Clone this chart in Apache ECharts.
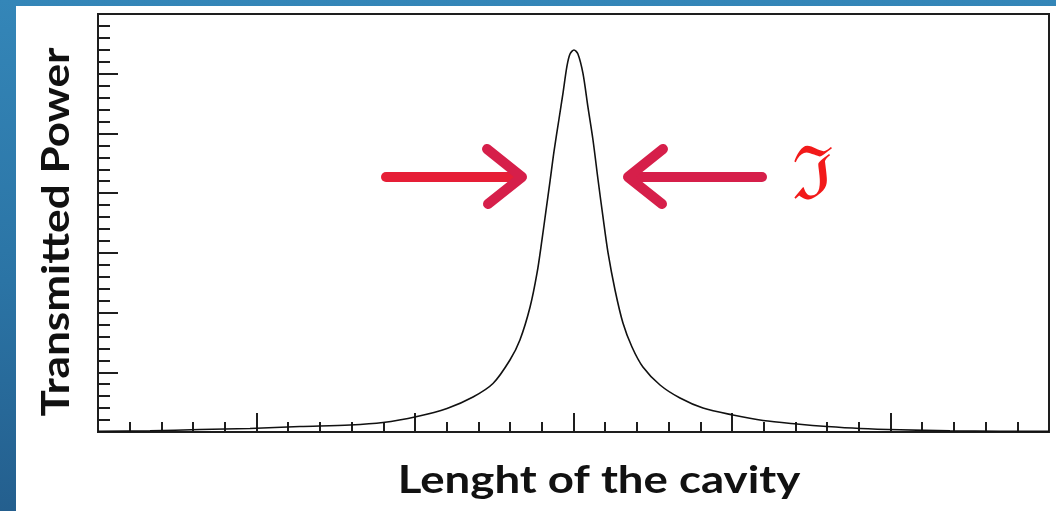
<!DOCTYPE html>
<html>
<head>
<meta charset="utf-8">
<script src="https://cdn.jsdelivr.net/npm/echarts@6/dist/echarts.min.js"></script>
<style>
  html, body { margin: 0; padding: 0; }
  body {
    width: 1056px; height: 511px; overflow: hidden; position: relative;
    background: linear-gradient(180deg, #3486b8 0%, #2b74a5 55%, #245f8e 100%);
  }
  #panel { position: absolute; left: 16px; top: 6px; right: 0; bottom: 0; background: #ffffff; }
  #chart { position: absolute; left: 0; top: 0; width: 1056px; height: 511px; }
</style>
</head>
<body>
<div id="panel"></div>
<div id="chart"></div>
<script>
// Cavity length offset (arbitrary units, resonance centred at 0)
const cavityLength = [
  -3.000, -2.672, -2.357, -2.041, -1.726, -1.410, -1.202, -0.987, -0.798, -0.634,
  -0.508, -0.401, -0.338, -0.274, -0.230, -0.199, -0.174, -0.148, -0.123, -0.091,
  -0.066, -0.041, -0.022, 0.003, 0.028, 0.060, 0.091, 0.123, 0.155, 0.186,
  0.218, 0.262, 0.312, 0.369, 0.438, 0.546, 0.672, 0.817, 1.006, 1.196,
  1.410, 1.599, 1.808, 2.060, 2.375, 2.691, 3.000
];
// Transmitted power through the cavity
const transmittedPower = [
  0.013, 0.020, 0.042, 0.059, 0.092, 0.117, 0.159, 0.260, 0.394, 0.586,
  0.812, 1.206, 1.541, 2.093, 2.663, 3.216, 3.700, 4.200, 4.700, 5.250,
  5.680, 6.130, 6.331, 6.398, 6.330, 6.000, 5.443, 4.890, 4.220, 3.601,
  2.998, 2.378, 1.825, 1.424, 1.089, 0.787, 0.569, 0.402, 0.285, 0.193,
  0.134, 0.092, 0.059, 0.037, 0.020, 0.013, 0.010
];
const xTitle = 'Lenght of the cavity';
const yTitle = 'Transmitted Power';
const finesseSymbol = '\u2111';

const chart = echarts.init(document.getElementById('chart'), null, { renderer: 'canvas' });

const frameColor = '#1e1e1e';
const arrowRed = '#e61e36';
const arrowCrimson = '#d61f4a';

const axisCommon = {
  axisLabel: { show: false },
  splitLine: { show: false },
  axisLine: { show: true, onZero: false, lineStyle: { color: frameColor, width: 2 } },
  axisTick: { show: true, inside: true, length: 19, lineStyle: { color: frameColor, width: 2 } },
  minorTick: { show: true, splitNumber: 5, length: 10, lineStyle: { color: frameColor, width: 2 } },
  minorSplitLine: { show: false }
};

chart.setOption({
  animation: false,
  backgroundColor: 'transparent',
  grid: {
    left: 98, right: 7, top: 14, bottom: 79,
    show: true, borderColor: frameColor, borderWidth: 2, backgroundColor: 'transparent'
  },
  xAxis: Object.assign({ type: 'value', min: -3, max: 3, interval: 1 }, axisCommon),
  yAxis: Object.assign({ type: 'value', min: 0, max: 7, interval: 1 }, axisCommon, {
    axisTick: { show: true, inside: true, length: 20, lineStyle: { color: frameColor, width: 2 } },
    minorTick: { show: true, splitNumber: 5, length: 12, lineStyle: { color: frameColor, width: 2 } }
  }),
  series: [{
    type: 'line',
    data: cavityLength.map((x, i) => [x, transmittedPower[i]]),
    showSymbol: false,
    smooth: 0.3,
    clip: true,
    lineStyle: { color: '#111111', width: 1.6 }
  }],
  graphic: [
    {
      type: 'text', x: 57, y: 232, rotation: Math.PI / 2, scaleX: 1.16,
      style: {
        text: yTitle, fill: '#111111', font: 'bold 38px Lato',
        align: 'center', verticalAlign: 'middle'
      }
    },
    {
      type: 'text', x: 599, y: 481, scaleX: 1.2,
      style: {
        text: xTitle, fill: '#111111', font: 'bold 38px Lato',
        align: 'center', verticalAlign: 'middle'
      }
    },
    // arrow pointing right, towards the left flank of the peak
    {
      type: 'polyline',
      shape: { points: [[386, 177], [521, 177]] },
      style: { stroke: arrowRed, lineWidth: 10, lineCap: 'round' }
    },
    {
      type: 'polyline',
      shape: { points: [[487, 149], [522, 177], [488, 204]] },
      style: { stroke: arrowCrimson, lineWidth: 10, lineCap: 'round', lineJoin: 'round', fill: null }
    },
    // arrow pointing left, towards the right flank of the peak
    {
      type: 'polyline',
      shape: { points: [[762, 177], [629, 177]] },
      style: { stroke: arrowCrimson, lineWidth: 10, lineCap: 'round' }
    },
    {
      type: 'polyline',
      shape: { points: [[663, 149], [628, 177], [662, 204]] },
      style: { stroke: arrowCrimson, lineWidth: 10, lineCap: 'round', lineJoin: 'round', fill: null }
    },
    {
      type: 'text', x: 812, y: 180,
      style: {
        text: finesseSymbol, fill: '#f21a1a', font: '74px "DejaVu Serif"',
        align: 'center', verticalAlign: 'middle'
      }
    }
  ]
});
</script>
</body>
</html>
